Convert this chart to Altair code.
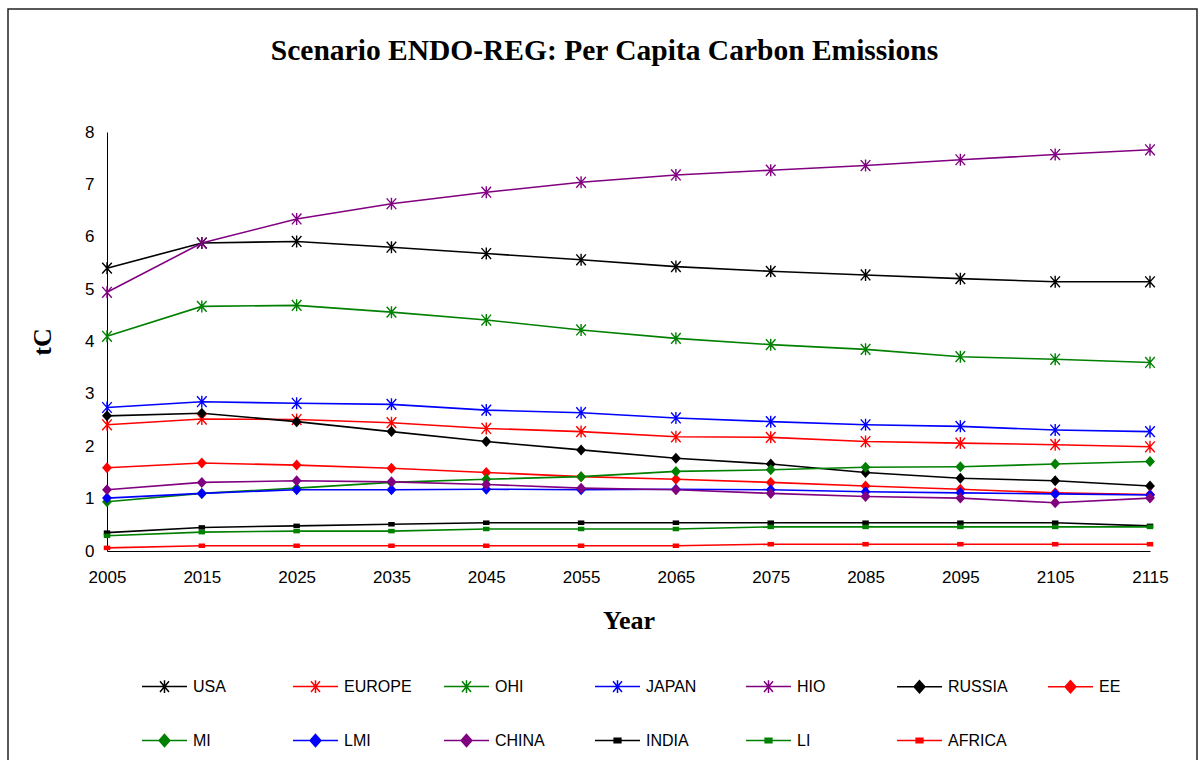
import altair as alt
import pandas as pd

# Per capita carbon emissions (tC) by region, ENDO-REG scenario
years = [2005, 2015, 2025, 2035, 2045, 2055, 2065, 2075, 2085, 2095, 2105, 2115]

USA = [5.40, 5.88, 5.91, 5.80, 5.68, 5.56, 5.43, 5.34, 5.27, 5.20, 5.14, 5.14]
EUROPE = [2.41, 2.52, 2.51, 2.45, 2.34, 2.28, 2.18, 2.17, 2.09, 2.06, 2.03, 1.99]
OHI = [4.10, 4.67, 4.69, 4.56, 4.41, 4.22, 4.06, 3.94, 3.85, 3.71, 3.66, 3.60]
JAPAN = [2.74, 2.85, 2.82, 2.80, 2.69, 2.64, 2.54, 2.47, 2.41, 2.38, 2.31, 2.28]
HIO = [4.94, 5.88, 6.34, 6.63, 6.85, 7.04, 7.18, 7.27, 7.36, 7.47, 7.57, 7.66]
RUSSIA = [2.58, 2.63, 2.47, 2.28, 2.09, 1.93, 1.77, 1.66, 1.50, 1.39, 1.34, 1.24]
EE = [1.59, 1.68, 1.64, 1.58, 1.50, 1.42, 1.37, 1.31, 1.24, 1.18, 1.11, 1.08]
MI = [0.94, 1.10, 1.20, 1.31, 1.37, 1.42, 1.52, 1.55, 1.60, 1.61, 1.66, 1.71]
LMI = [1.01, 1.10, 1.17, 1.17, 1.18, 1.17, 1.18, 1.17, 1.13, 1.11, 1.09, 1.07]
CHINA = [1.17, 1.31, 1.34, 1.32, 1.27, 1.20, 1.17, 1.10, 1.04, 1.01, 0.92, 1.01]
INDIA = [0.35, 0.45, 0.48, 0.51, 0.54, 0.54, 0.54, 0.54, 0.54, 0.54, 0.54, 0.48]
LI = [0.29, 0.36, 0.38, 0.38, 0.42, 0.42, 0.42, 0.46, 0.46, 0.46, 0.46, 0.46]
AFRICA = [0.06, 0.10, 0.10, 0.10, 0.10, 0.10, 0.10, 0.13, 0.13, 0.13, 0.13, 0.13]

regions = ["USA", "EUROPE", "OHI", "JAPAN", "HIO", "RUSSIA", "EE",
           "MI", "LMI", "CHINA", "INDIA", "LI", "AFRICA"]
series = [USA, EUROPE, OHI, JAPAN, HIO, RUSSIA, EE, MI, LMI, CHINA, INDIA, LI, AFRICA]
colors = ["#000000", "#FF0000", "#008000", "#0000FF", "#800080", "#000000", "#FF0000",
          "#008000", "#0000FF", "#800080", "#000000", "#008000", "#FF0000"]
markers = ["star"] * 5 + ["diamond"] * 5 + ["dash"] * 3

rows = []
for name, vals, mk in zip(regions, series, markers):
    for yr, v in zip(years, vals):
        rows.append({"year": yr, "region": name, "value": v, "marker": mk})
df = pd.DataFrame(rows)

# marker glyphs (unit box -1..1)
STAR = "M-0.8,-0.9L0.8,0.9M-0.8,0.9L0.8,-0.9M0,-1V1"
DIAMOND = "M0,-1L0.9,0L0,1L-0.9,0Z"
DASH = "M-1,-0.7H1V0.7H-1Z"

# legend glyphs: line segment with the marker in the middle
LEG_STAR = "M-1,0H1M-0.2,-0.24L0.2,0.24M-0.2,0.24L0.2,-0.24M0,-0.28V0.28"
LEG_DIAMOND = "M-1,0H1M0,-0.27L0.24,0L0,0.27L-0.24,0Z"
LEG_DASH = "M-1,0H1M-0.15,-0.1H0.15V0.1H-0.15Z"
leg_shapes = {"star": LEG_STAR, "diamond": LEG_DIAMOND, "dash": LEG_DASH}
legend_range = [leg_shapes[m] for m in markers]

W, H = 1043, 419
PAD_L, PAD_T = 107, 132

x_enc = alt.X("year:Q", scale=alt.Scale(domain=[2005, 2115], nice=False, zero=False),
              axis=alt.Axis(values=years, format="d", title="Year", ticks=False, grid=False,
                            labelFlush=False, labelOverlap=False,
                            labelFont="Liberation Sans", labelFontSize=17, labelColor="#000",
                            labelPadding=18, domainColor="#000", domainWidth=1,
                            titleFont="Liberation Serif", titleFontSize=26, titleFontWeight="bold",
                            titleColor="#000", titlePadding=22))
y_enc = alt.Y("value:Q", scale=alt.Scale(domain=[0, 8], nice=False),
              axis=alt.Axis(values=list(range(9)), title="tC", ticks=False, grid=False,
                            labelFont="Liberation Sans", labelFontSize=17, labelColor="#000",
                            labelPadding=13, domainColor="#000", domainWidth=1,
                            titleFont="Liberation Serif", titleFontSize=26, titleFontWeight="bold",
                            titleColor="#000", titleX=-65, titleY=H / 2, titleAngle=-90,
                            titleAlign="center", titleBaseline="middle"))
# series colours for the plotted marks (domain listed bottom-up so it stays apart from the legend scales)
color_enc = alt.Color("region:N", scale=alt.Scale(domain=regions[::-1], range=colors[::-1]),
                      legend=None)

base = alt.Chart(df).encode(x=x_enc, y=y_enc, color=color_enc)

lines = base.mark_line(strokeWidth=1.6).encode(detail="region:N")
stars = base.transform_filter(alt.datum.marker == "star").mark_point(
    shape=STAR, size=144, filled=False, strokeWidth=1.4, opacity=1)
diamonds = base.transform_filter(alt.datum.marker == "diamond").mark_point(
    shape=DIAMOND, size=121, filled=True, opacity=1)
dashes = base.transform_filter(alt.datum.marker == "dash").mark_point(
    shape=DASH, size=42, filled=True, opacity=1)

# legend layer: its points sit below the plot and are clipped away; only the legend shows
legend_layer = alt.Chart(df).transform_calculate(hidden="datum.value - 100").mark_point(
    strokeWidth=1.5, size=2025, opacity=1, clip=True).encode(
    x="year:Q",
    y=alt.Y("hidden:Q", scale=alt.Scale(domain=[0, 8], nice=False)),
    shape=alt.Shape("region:N", scale=alt.Scale(domain=regions, range=legend_range),
                    legend=alt.Legend(title=None, orient="none", legendX=34, legendY=531,
                                      direction="horizontal", columns=7, gridAlign="all",
                                      columnPadding=29, rowPadding=21,
                                      labelFont="Liberation Sans", labelFontSize=16,
                                      labelColor="#000", labelOffset=5,
                                      symbolStrokeWidth=1.5, symbolSize=2025, padding=0)),
    stroke=alt.Stroke("region:N", scale=alt.Scale(domain=regions, range=colors)),
    fill=alt.Fill("region:N", scale=alt.Scale(domain=regions, range=colors)),
)

# outer border around the whole figure
frame = alt.Chart(pd.DataFrame({"k": [0]})).mark_rect(
    fill="transparent", stroke="#222", strokeWidth=1.5).encode(
    x=alt.value(-99), x2=alt.value(1090), y=alt.value(-123), y2=alt.value(700))

chart = alt.layer(frame, lines, stars, diamonds, dashes, legend_layer).properties(
    width=W, height=H,
    title=alt.Title("Scenario ENDO-REG: Per Capita Carbon Emissions",
                    font="Liberation Serif", fontSize=29.5, fontWeight="bold", color="#000",
                    anchor="middle", frame="group", dx=-24, offset=0, dy=81,
                    baseline="alphabetic"),
    autosize=alt.AutoSizeParams(type="none"),
    padding={"left": PAD_L, "top": PAD_T, "right": 1200 - PAD_L - W, "bottom": 760 - PAD_T - H},
).configure(background="white").configure_view(stroke=None)

chart.save("out.html", embed_options={"renderer": "svg", "actions": False})
